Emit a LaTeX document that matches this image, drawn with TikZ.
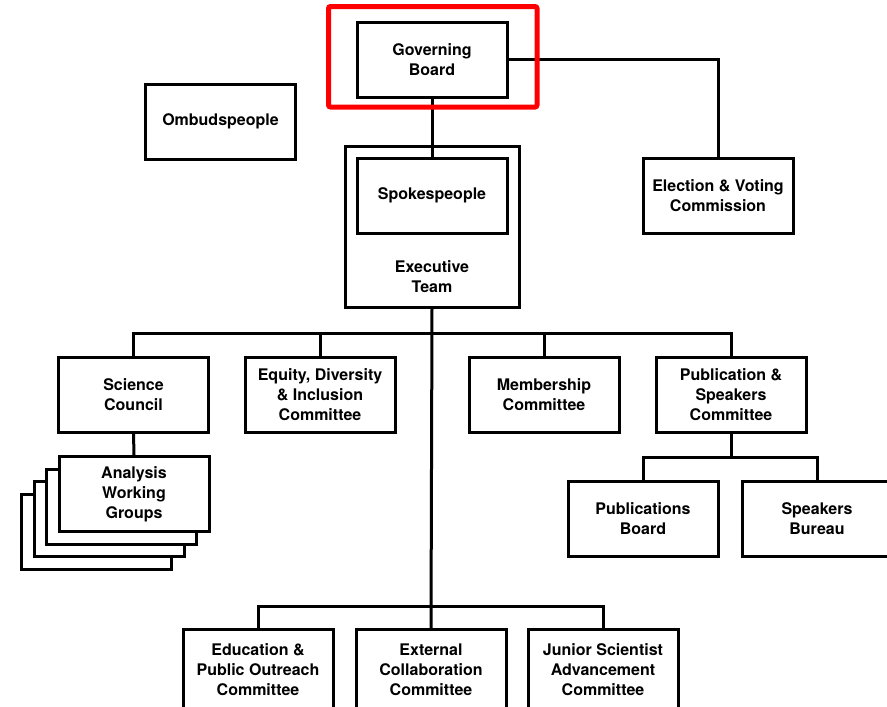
\documentclass[tikz,border=0pt]{standalone}
\usepackage{fontspec}
\setmainfont{TeX Gyre Heros}
\begin{document}
\begin{tikzpicture}[x=1pt,y=-1pt,
  box/.style={draw=black,line width=3pt,fill=white,minimum width=150pt,minimum height=75pt,
    inner sep=0pt,align=center,font=\fontsize{16}{20}\selectfont\bfseries},
  txt/.style={inner sep=0pt,align=center,font=\fontsize{16}{20}\selectfont\bfseries},
  conn/.style={draw=black,line width=3pt},
  line join=miter]
\useasboundingbox (0,0) rectangle (887,707);
\clip (0,0) rectangle (887,707);
% exec outer
\node[box,minimum width=174pt,minimum height=161pt] (exec) at (432,226.5) {};
\node[txt] (exectxt) at (432,277) {Executive\\Team};
\node[box] (gb) at (432,59.5) {Governing\\Board};
\node[box] (omb) at (220.5,121.5) {Ombudspeople};
\node[box] (spk) at (432,195.5) {Spokespeople};
\node[box] (elec) at (718,195.5) {Election \& Voting\\Commission};
\node[box] (sci) at (133.5,394.5) {Science\\Council};
\node[box] (edi) at (320,394.5) {Equity, Diversity\\\& Inclusion\\Committee};
\node[box] (mem) at (544,395) {Membership\\Committee};
\node[box] (pas) at (731,395) {Publication \&\\Speakers\\Committee};
% analysis working groups stack
\node[box] (awg3) at (96.5,531.5) {};
\node[box] (awg2) at (109,519) {};
\node[box] (awg1) at (121.5,506.5) {};
\node[box] (awg) at (134,494) {Analysis\\Working\\Groups};
\node[box] (pubb) at (643,519) {Publications\\Board};
\node[box] (spb) at (817,519) {Speakers\\Bureau};
\node[box,minimum height=80pt] (edu) at (258,669.5) {Education \&\\Public Outreach\\Committee};
\node[box,minimum height=80pt] (ext) at (431,669.5) {External\\Collaboration\\Committee};
\node[box,minimum height=80pt] (jun) at (603,669.5) {Junior Scientist\\Advancement\\Committee};
% connectors
\coordinate (b1) at (431,333);
\coordinate (b2) at (431,606);
\coordinate (b3) at (731,457);
\draw[conn] (gb.south) -- (spk.north);
\draw[conn] (gb.east) -| (elec.north);
\draw[conn] (exec.south) -- (ext.north);
\draw[conn] (sci.north) |- (b1) -| (pas.north);
\draw[conn] (edi.north) -- (edi.north |- b1);
\draw[conn] (mem.north) -- (mem.north |- b1);
\draw[conn] (sci.south) -- (awg.north);
\draw[conn] (edu.north) |- (b2) -| (jun.north);
\draw[conn] (pas.south) -- (b3);
\draw[conn] (pubb.north) |- (b3) -| (spb.north);
% highlight
\draw[red,line width=5pt,rounded corners=2pt] (328.5,6.5) rectangle (537,107);
\end{tikzpicture}
\end{document}
